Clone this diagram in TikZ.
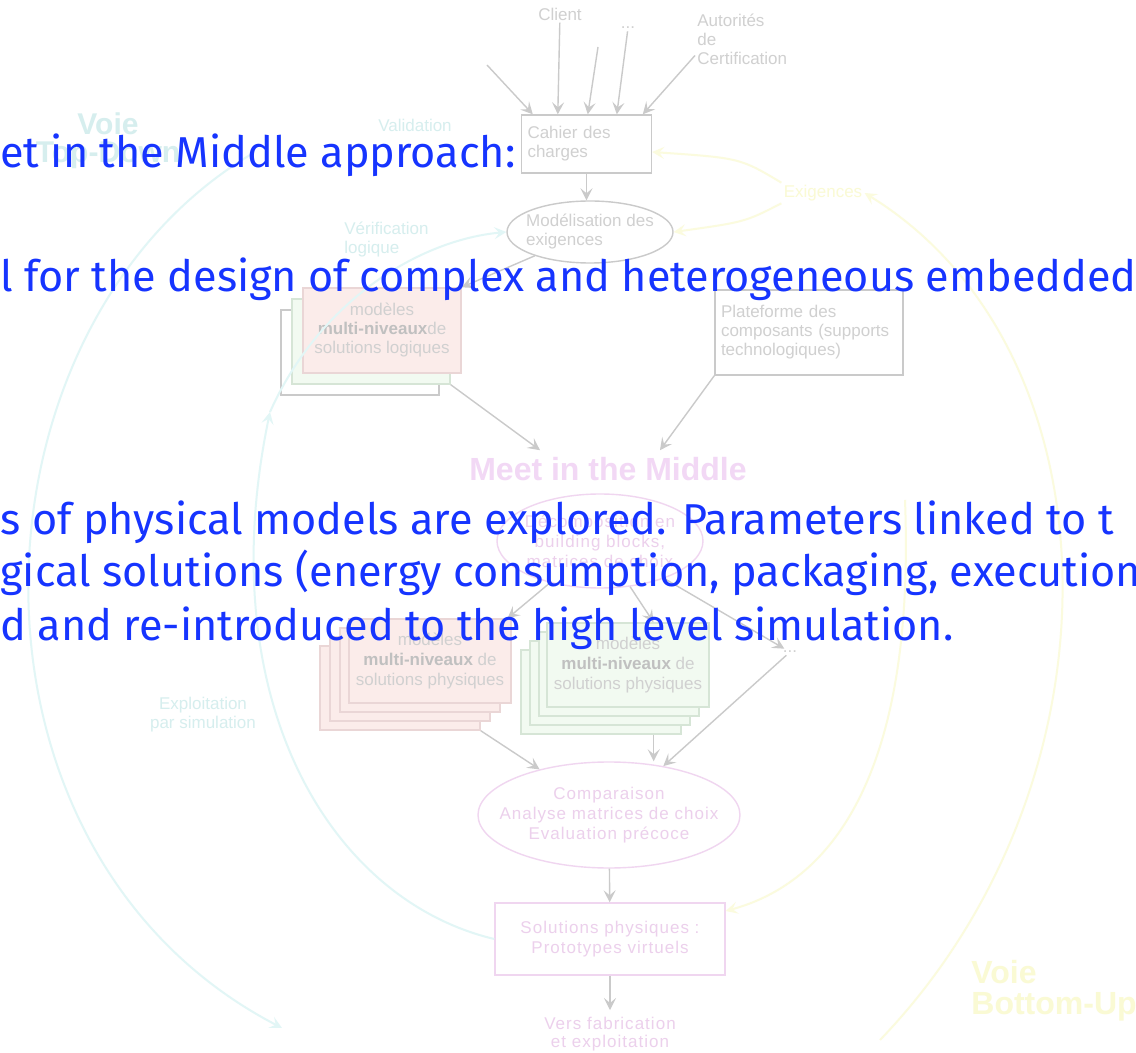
\documentclass[tikz,border=0pt]{standalone}
\usepackage{fontspec}
\setmainfont{Liberation Sans}
\newfontfamily\handfont{Fira Sans}
\newfontfamily\spacedfont{Liberation Sans}[LetterSpace=6]
\usetikzlibrary{shapes.geometric, arrows.meta, positioning}

\definecolor{glinec}{RGB}{202,202,202}
\definecolor{gtextc}{RGB}{208,208,208}
\definecolor{gboldc}{RGB}{192,192,192}
\definecolor{pinkc}{RGB}{240,214,240}
\definecolor{pinktextc}{RGB}{236,208,236}
\definecolor{meetc}{RGB}{242,216,245}
\definecolor{rosefill}{RGB}{251,236,234}
\definecolor{roseline}{RGB}{234,214,214}
\definecolor{mintfill}{RGB}{242,250,241}
\definecolor{mintline}{RGB}{214,229,214}
\definecolor{tealarc}{RGB}{226,246,246}
\definecolor{tealtextc}{RGB}{214,238,238}
\definecolor{lemonarc}{RGB}{251,251,222}
\definecolor{lemonc}{RGB}{250,250,212}
\definecolor{bluec}{RGB}{22,52,255}

\newcommand{\diagsize}{\fontsize{8.5pt}{9.5pt}\selectfont}
\newcommand{\handsize}{\handfont\fontsize{21.6pt}{25pt}\selectfont}

\tikzstyle{gbox}   = [rectangle, draw=glinec, line width=0.7pt, text=gtextc,
                      font=\diagsize, inner sep=3pt]
\tikzstyle{gell}   = [ellipse, draw=glinec, line width=0.7pt, text=gtextc,
                      font=\diagsize, inner sep=0pt]
\tikzstyle{pell}   = [ellipse, draw=pinkc, line width=0.7pt, text=pinktextc,
                      font=\spacedfont\fontsize{8.5pt}{10pt}\selectfont, align=center]
\tikzstyle{sheet}  = [rectangle, line width=0.7pt, minimum width=80pt,
                      minimum height=42pt, text=gtextc, align=center,
                      font=\fontsize{8.5pt}{10pt}\selectfont]
\tikzstyle{lbl}    = [text=gtextc, font=\diagsize, inner sep=1pt]
\tikzstyle{garrow} = [draw=glinec, line width=0.7pt,
                      -{Stealth[length=6pt,width=6pt,inset=2.5pt]}]
\tikzstyle{tarrow} = [draw=tealarc, line width=1pt,
                      -{Stealth[length=6pt,width=6pt,inset=2.5pt]}]
\tikzstyle{yarrow} = [draw=lemonarc, line width=1pt,
                      -{Stealth[length=6pt,width=6pt,inset=2.5pt]}]
\tikzstyle{tnote}  = [text=tealtextc, font=\diagsize, align=center, inner sep=1pt]
\tikzstyle{ynote}  = [text=lemonc, font=\diagsize, align=left, inner sep=1pt]
\tikzstyle{say}    = [anchor=base west, inner sep=0pt, text=bluec, font=\handsize]

\begin{document}
\begin{tikzpicture}[x=0.5pt, y=-0.5pt]
\useasboundingbox (0,0) rectangle (1136,1053);
\fill[white] (0,0) rectangle (1136,1053);

% side labels of the two ways
\node[text=tealtextc, font=\bfseries\fontsize{15pt}{14pt}\selectfont, align=center]
      (topdown) at (108,141) {Voie\\Top-Down};
\node[text=lemonc, font=\bfseries\fontsize{16pt}{15.5pt}\selectfont, align=left,
      anchor=north west, inner sep=0pt] (bottomup) at (971,960) {Voie\\Bottom-Up};
\node[tnote] (valid)   at (415,125) {Validation};
\node[tnote, align=left, anchor=west] (verif) at (342,240) {Vérification\\logique};
\node[tnote] (exploit) at (203,715) {Exploitation\\par simulation};
\node[ynote] (exiglbl) at (823,193) {Exigences};

% inputs
\node[lbl] (client) at (560,14) {Client};
\node[lbl] (etc)    at (628,28) {...};
\node[lbl, align=left, anchor=north west, font=\fontsize{8.5pt}{9.5pt}\selectfont]
      (autor) at (695,12) {Autorités\\de\\Certification};
\coordinate (in1) at (487,65);
\coordinate (in3) at (598,47);

\node[gbox, text width=59pt, minimum height=29pt, align=left]
      (cahier) at (586.5,144) {Cahier des\\charges};
\node[gell, minimum width=83pt, minimum height=31pt, inner xsep=-3pt,
      inner ysep=1pt, align=left] (exig) at (590,232) {Modélisation des\\exigences};

% logical solutions
\node[sheet, minimum width=79pt, minimum height=42.5pt, draw=glinec, fill=white]
      (logb) at (360,352.5) {};
\node[sheet, minimum width=79pt, minimum height=42.5pt, draw=mintline, fill=mintfill]
      (logg) at (371,341.5) {};
\node[sheet, minimum width=79pt, minimum height=42.5pt, draw=roseline, fill=rosefill,
      font=\fontsize{8.5pt}{9.5pt}\selectfont]
      (logf) at (382,330.5) {modèles\\\textcolor{gboldc}{\textbf{multi-niveaux}}de\\solutions logiques};

\node[gbox, text width=88pt, minimum height=42.5pt, align=left, inner sep=3pt]
      (plat) at (809,332.5) {Plateforme des\\composants (supports\\technologiques)};

% meet in the middle
\node[text=meetc, font=\bfseries\fontsize{16pt}{18pt}\selectfont]
      (meet) at (608,469) {Meet in the Middle};
\node[pell, minimum width=103pt, minimum height=47pt, inner xsep=-2pt]
      (mim) at (600,541) {Décomposition en\\building blocks,\\matrices de choix};

% physical solutions
\node[sheet, draw=roseline, fill=rosefill] (roseb3) at (400,688) {};
\node[sheet, draw=roseline, fill=rosefill] (roseb2) at (410,679) {};
\node[sheet, draw=roseline, fill=rosefill] (roseb1) at (420,670) {};
\node[sheet, draw=roseline, fill=rosefill] (rosef)  at (430,661)
      {modèles\\\textcolor{gboldc}{\textbf{multi-niveaux}} de\\solutions physiques};
\node[sheet, draw=mintline, fill=mintfill] (mintb3) at (601,692) {};
\node[sheet, draw=mintline, fill=mintfill] (mintb2) at (610,683) {};
\node[sheet, draw=mintline, fill=mintfill] (mintb1) at (619,674) {};
\node[sheet, draw=mintline, fill=mintfill] (mintf)  at (628,665)
      {modèles\\\textcolor{gboldc}{\textbf{multi-niveaux}} de\\solutions physiques};
\node[lbl] (more) at (790,652) {...};

\node[pell, minimum width=131pt, minimum height=53pt, inner xsep=-12pt]
      (compar) at (609,815) {Comparaison\\Analyse matrices de choix\\Evaluation précoce};
\node[rectangle, draw=pinkc, line width=0.7pt, minimum width=115pt, minimum height=36pt,
      text=pinktextc, align=center, font=\spacedfont\fontsize{8.5pt}{10pt}\selectfont]
      (sol) at (610,939) {Solutions physiques :\\Prototypes virtuels};
\node[text=pinktextc, align=center, font=\spacedfont\fontsize{8.5pt}{9pt}\selectfont]
      (vers) at (610,1034) {Vers fabrication\\et exploitation};

% the two big loops
\coordinate (tdstart) at (250,155);
\coordinate (tdend)   at (282,1028);
\coordinate (tdmid)   at (270,412);
\coordinate (bustart) at (880,1040);
\coordinate (bumid)   at (905,500);
\draw[tarrow] (tdstart) .. controls (-40,330) and (-60,850) .. (tdend);
\draw[tarrow] (sol.west) .. controls (330,900) and (210,700) .. (tdmid);
\draw[tarrow] (tdmid) .. controls (320,300) and (420,240) .. (exig.west);
\draw[yarrow] (bustart) .. controls (1130,780) and (1120,350) .. (exiglbl.east);
\draw[yarrow] (bumid) .. controls (915,760) and (840,880) .. ([yshift=14pt]sol.east);
\draw[yarrow] (exiglbl.north west) .. controls (740,158) .. ([yshift=-4pt]cahier.east);
\draw[yarrow] (exiglbl.south west) .. controls (745,222) .. (exig.east);

% connectors
\draw[garrow] (in1)    -- ([xshift=6pt]cahier.north west);
\draw[garrow] (client) -- ([xshift=18.5pt]cahier.north west);
\draw[garrow] (in3)    -- ([xshift=33.5pt]cahier.north west);
\draw[garrow] (etc)    -- ([xshift=48pt]cahier.north west);
\draw[garrow] ([yshift=6pt]autor.south west) -- ([xshift=61pt]cahier.north west);
\draw[garrow] (cahier.south) -- (cahier.south |- exig.north);
\draw[garrow] (exig) -- (logf.north east);
\draw[garrow] (logg.south east) -- ([xshift=-34pt]meet.north);
\draw[garrow] (plat.south west) -- ([xshift=26pt]meet.north);
\draw[garrow] (mim) -- ([xshift=-2pt]rosef.north east);
\draw[garrow] (mim) -- ([xshift=-28pt]mintf.north east);
\draw[garrow] (mim) -- (more);
\draw[garrow] (roseb3.south east) -- (compar);
\draw[garrow] ([xshift=-14pt]mintb3.south east) -- ([xshift=-14pt]mintb3.south east |- compar.north);
\draw[garrow] (more) -- (compar);
\draw[garrow] (compar) -- (sol);
\draw[garrow] (sol) -- (vers);

% overlay text
\node[say] (say1) at (0,168) {et in the Middle approach:};
\node[say] (say2) at (0,292) {l for the design of complex and heterogeneous embedded};
\node[say] (say3) at (0,535) {s of physical models are explored. Parameters linked to t};
\node[say] (say4) at (0,587) {gical solutions (energy consumption, packaging, execution t};
\node[say] (say5) at (0,640) {d and re-introduced to the high level simulation.};

\end{tikzpicture}
\end{document}
